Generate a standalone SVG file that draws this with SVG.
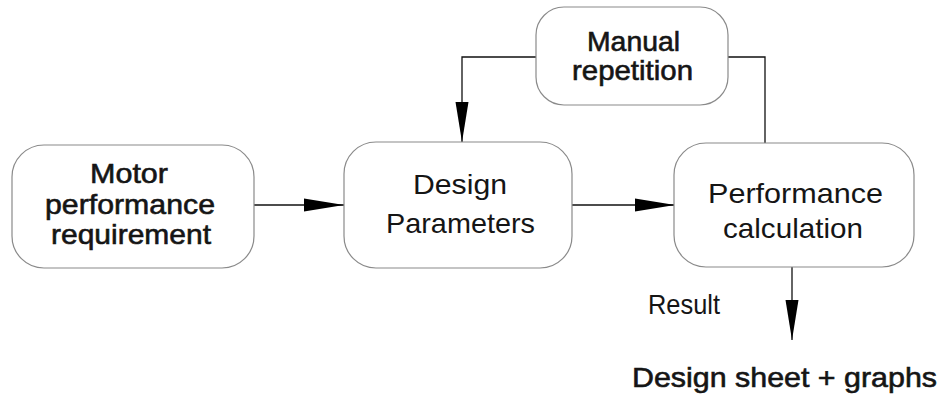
<svg xmlns="http://www.w3.org/2000/svg" width="941" height="398" viewBox="0 0 941 398">
  <style>
    .box { fill: #ffffff; stroke: #8a8a8a; stroke-width: 1.2; }
    .line { fill: none; stroke: #111111; stroke-width: 1.3; }
    .lbl { font-family: "Liberation Sans", Arial, sans-serif; fill: #151515; font-size: 28px; }
    .heavy { stroke: #151515; stroke-width: 0.6; }
  </style>
  <defs>
    <marker id="head" markerUnits="userSpaceOnUse" markerWidth="42" markerHeight="16" refX="40" refY="8" orient="auto">
      <path d="M0,1.5 L40,8 L0,14.5 Z" fill="#000000"/>
    </marker>
  </defs>
  <rect width="941" height="398" fill="#ffffff"/>

  <g id="connectors">
    <line class="line" x1="254" y1="205" x2="344" y2="205" marker-end="url(#head)"/>
    <line class="line" x1="572" y1="205" x2="675" y2="205" marker-end="url(#head)"/>
    <polyline class="line" points="536,57 462,57 462,142" marker-end="url(#head)"/>
    <polyline class="line" points="728,57 765,57 765,143"/>
    <line class="line" x1="792" y1="267" x2="792" y2="340" marker-end="url(#head)"/>
  </g>

  <g id="motor">
    <rect class="box" x="12" y="145" width="242" height="123" rx="32"/>
    <text class="lbl heavy" x="90" y="183" textLength="78" lengthAdjust="spacingAndGlyphs">Motor</text>
    <text class="lbl heavy" x="45" y="214" textLength="170" lengthAdjust="spacingAndGlyphs">performance</text>
    <text class="lbl heavy" x="51" y="244" textLength="160" lengthAdjust="spacingAndGlyphs">requirement</text>
  </g>

  <g id="design">
    <rect class="box" x="344" y="142" width="228" height="126" rx="32"/>
    <text class="lbl" x="413" y="194" textLength="94" lengthAdjust="spacingAndGlyphs">Design</text>
    <text class="lbl" x="386" y="233" textLength="149" lengthAdjust="spacingAndGlyphs">Parameters</text>
  </g>

  <g id="manual">
    <rect class="box" x="536" y="7" width="192" height="98" rx="28"/>
    <text class="lbl heavy" x="587" y="51" textLength="93" lengthAdjust="spacingAndGlyphs">Manual</text>
    <text class="lbl heavy" x="572" y="80" textLength="121" lengthAdjust="spacingAndGlyphs">repetition</text>
  </g>

  <g id="performance">
    <rect class="box" x="674" y="143" width="240" height="124" rx="32"/>
    <text class="lbl" x="708" y="203" textLength="175" lengthAdjust="spacingAndGlyphs">Performance</text>
    <text class="lbl" x="723" y="238" textLength="140" lengthAdjust="spacingAndGlyphs">calculation</text>
  </g>

  <g id="result">
    <text class="lbl" x="648" y="314" font-size="23" textLength="72" lengthAdjust="spacingAndGlyphs">Result</text>
  </g>

  <g id="output">
    <text class="lbl heavy" x="632" y="387" font-size="29" textLength="305" lengthAdjust="spacingAndGlyphs">Design sheet + graphs</text>
  </g>
</svg>
